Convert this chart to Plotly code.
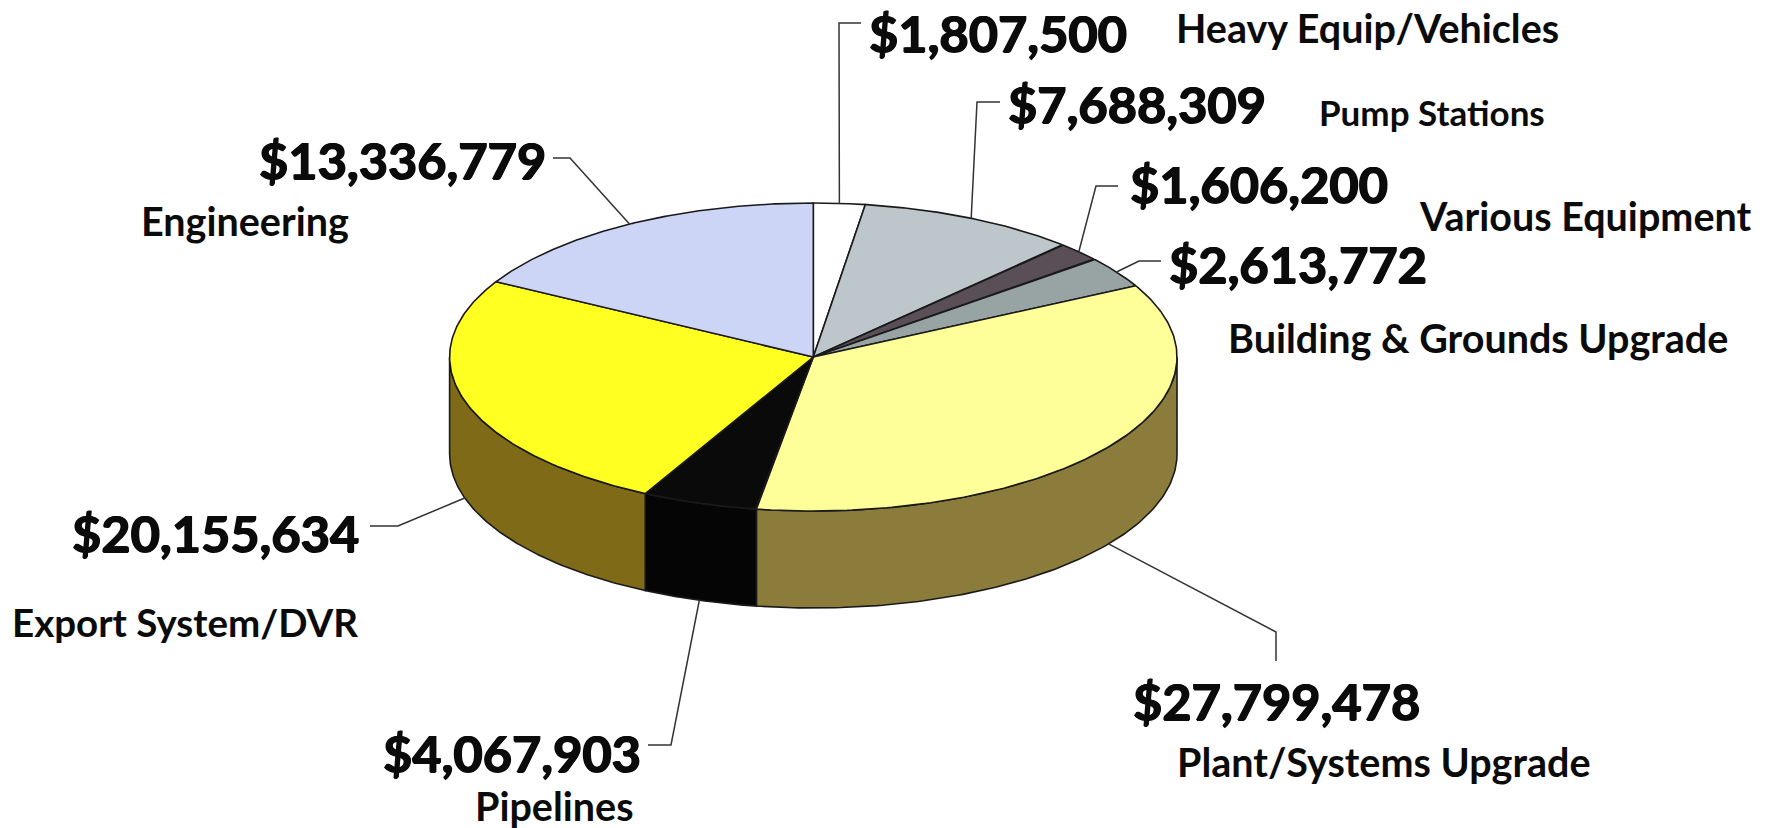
import numpy as np
import plotly.graph_objects as go

# Budget categories, clockwise from twelve o'clock
categories = ["Heavy Equip/Vehicles", "Pump Stations", "Various Equipment",
              "Building & Grounds Upgrade", "Plant/Systems Upgrade", "Pipelines",
              "Export System/DVR", "Engineering"]
amounts = [1807500, 7688309, 1606200, 2613772, 27799478, 4067903, 20155634, 13336779]

top_colors = ["#FFFFFF", "#BCC6CB", "#5B4F57", "#98A4A4", "#FFFF99", "#0A0A0A", "#FFFF22", "#CCD5F6"]
wall_colors = ["#888888", "#888888", "#888888", "#888888", "#8B7C3C", "#050505", "#7F6A18", "#888888"]

# Disc geometry on a pixel-sized axis
CX, CY, RX, RY, DEPTH = 813.3, 357.0, 363.7, 154.0, 97.0

# Layout of the callouts: bend points of each leader and text anchors
leader_bends = [[(839, 23), (861, 23)], [(977, 102), (1000, 102)], [(1096, 186), (1118, 186)],
                [(1139, 261), (1161, 261)], [(1276, 632), (1276, 661)], [(671, 745), (648, 745)],
                [(398, 526), (370, 526)], [(570, 158), (553, 158)]]
leader_on_wall = [False, False, False, False, True, True, True, False]
amount_pos = [(867, 32, "left"), (1006, 103, "left"), (1128, 183, "left"), (1167, 263, "left"),
              (1131, 700, "left"), (643, 752, "right"), (361, 532, "right"), (548, 159, "right")]
name_pos = [(1174, 27, "left"), (1317, 112, "left"), (1417, 215, "left"), (1226, 337, "left"),
            (1175, 761, "left"), (636, 805, "right"), (360, 622, "right"), (351, 220, "right")]
name_sizes = [39.5, 35, 39.5, 39.5, 39.5, 39.5, 38.5, 39.5]

FONT = "Lato"
INK = "#0B0B0B"
EDGE = dict(color="#1A1A1A", width=1.6)
HEAVY = "0.8px 0 0 #0B0B0B, -0.8px 0 0 #0B0B0B, 0 0.5px 0 #0B0B0B"


def rim(angle_deg, drop=0.0):
    a = np.radians(angle_deg)
    return CX + RX * np.sin(a), CY - RY * np.cos(a) + drop


shares = np.array(amounts) / sum(amounts) * 360.0
ends = np.cumsum(shares)
starts = ends - shares

fig = go.Figure()


def add_poly(xs, ys, color):
    fig.add_trace(go.Scatter(x=xs, y=ys, mode="lines", fill="toself", fillcolor=color,
                             line=EDGE, hoverinfo="skip", showlegend=False))


# Front wall: only the stretch of each slice on the near half of the disc
for s, e, color in zip(starts, ends, wall_colors):
    lo, hi = max(s, 90.0), min(e, 270.0)
    if hi <= lo:
        continue
    t = np.linspace(lo, hi, 120)
    x_top, y_top = rim(t)
    x_bot, y_bot = rim(t[::-1], DEPTH)
    add_poly(np.r_[x_top, x_bot, x_top[0]], np.r_[y_top, y_bot, y_top[0]], color)

# Top face
for s, e, color in zip(starts, ends, top_colors):
    t = np.linspace(s, e, 160)
    x_r, y_r = rim(t)
    add_poly(np.r_[CX, x_r, CX], np.r_[CY, y_r, CY], color)

# Leader lines start at the middle of each slice
for s, e, bends, on_wall in zip(starts, ends, leader_bends, leader_on_wall):
    ax, ay = rim((s + e) / 2.0, DEPTH if on_wall else 0.0)
    fig.add_trace(go.Scatter(x=[ax] + [b[0] for b in bends], y=[ay] + [b[1] for b in bends],
                             mode="lines", line=dict(color="#333333", width=1.5),
                             hoverinfo="skip", showlegend=False))

annotations = []
for value, name, ap, np_, nsize in zip(amounts, categories, amount_pos, name_pos, name_sizes):
    annotations.append(dict(x=ap[0], y=ap[1], text=f"${value:,}", xref="x", yref="y",
                            xanchor=ap[2], yanchor="middle", showarrow=False,
                            font=dict(family=FONT, size=50.5, color=INK, weight=700, shadow=HEAVY)))
    annotations.append(dict(x=np_[0], y=np_[1], text=name, xref="x", yref="y",
                            xanchor=np_[2], yanchor="middle", showarrow=False,
                            font=dict(family=FONT, size=nsize, color=INK, weight=700)))

fig.update_layout(
    width=1771, height=828, margin=dict(l=0, r=0, t=0, b=0, pad=0),
    paper_bgcolor="white", plot_bgcolor="white", showlegend=False,
    xaxis=dict(range=[0, 1771], visible=False, fixedrange=True),
    yaxis=dict(range=[828, 0], visible=False, fixedrange=True),
    annotations=annotations,
)

fig.write_html("out.html", config={"displayModeBar": False})
